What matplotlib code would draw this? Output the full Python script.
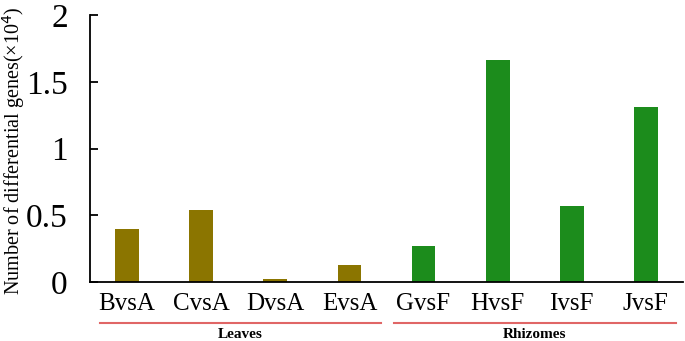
import matplotlib
matplotlib.use("Agg")
import matplotlib.pyplot as plt
from matplotlib.lines import Line2D

categories = ["BvsA", "CvsA", "DvsA", "EvsA", "GvsF", "HvsF", "IvsF", "JvsF"]
values = [0.40, 0.54, 0.02, 0.13, 0.27, 1.66, 0.57, 1.31]
groups = ["Leaves", "Leaves", "Leaves", "Leaves", "Rhizomes", "Rhizomes", "Rhizomes", "Rhizomes"]
group_colors = {"Leaves": "#8B7500", "Rhizomes": "#1C8C1C"}
yticks = [0, 0.5, 1, 1.5, 2]
ytick_labels = ["0", "0.5", "1", "1.5", "2"]

plt.rcParams['font.family'] = ['Liberation Serif', 'DejaVu Serif']

fig = plt.figure(figsize=(6.85, 3.41), dpi=100)
ax = fig.add_axes([90/685, 1-282/341, 593/685, 267/341])

x = list(range(len(categories)))
ax.bar(x, values, width=0.32, color=[group_colors[g] for g in groups])
ax.set_xlim(-0.5, 7.5)
ax.set_ylim(0, 2)
ax.set_yticks(yticks)
ax.set_yticklabels(ytick_labels, fontsize=24)
ax.set_xticks(x)
ax.set_xticklabels(categories, fontsize=18)
ax.tick_params(axis='y', direction='in', length=6, width=1.3, pad=16)
ax.tick_params(axis='x', length=0, pad=8)
for s in ['top', 'right']:
    ax.spines[s].set_visible(False)
ax.spines['left'].set_linewidth(1.3)
ax.spines['bottom'].set_linewidth(1.3)
fig.text(13.5/685, 1-151/341, "Number of differential genes(×10$^4$)", fontsize=14.5,
         rotation=90, ha='center', va='center')

# group underline & labels
for gname, (x0, x1) in {"Leaves": (-0.37, 3.42), "Rhizomes": (3.6, 7.4)}.items():
    ax.add_line(Line2D([x0, x1], [-0.153, -0.153], color='#E06666', lw=1.5,
                       transform=ax.get_xaxis_transform(), clip_on=False))
    ax.text((x0 + x1) / 2, -0.195, gname, transform=ax.get_xaxis_transform(),
            ha='center', va='center', fontsize=11, fontweight='bold')

fig.savefig("out.png", dpi=100)
